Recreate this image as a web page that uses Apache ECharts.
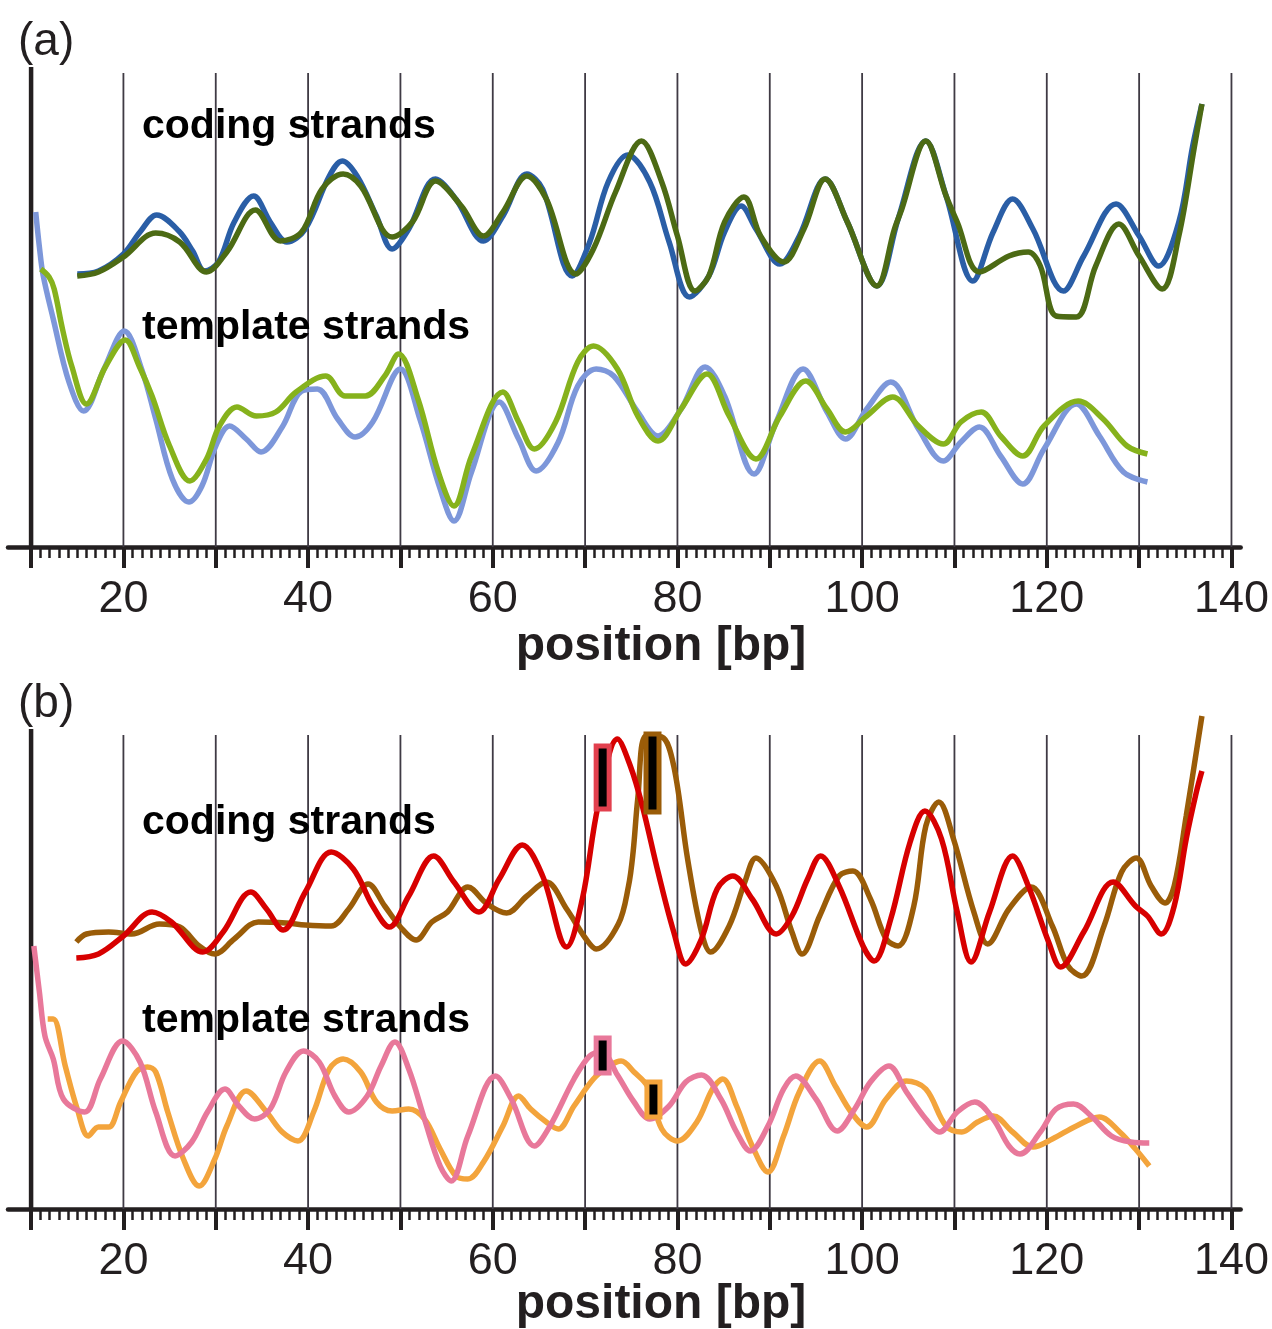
<!DOCTYPE html>
<html lang="en">
<head>
<meta charset="UTF-8">
<title>coding and template strands</title>
<script src="https://cdn.jsdelivr.net/npm/echarts@6/dist/echarts.min.js"></script>
<style>html,body{margin:0;padding:0;background:#fff}</style>
</head>
<body>
<div id="chart" style="width:1272px;height:1329px;"></div>
<script>
// position [bp] vs. arbitrary profile units (0 = x axis line)
var codingBlueA = [[15,273],[17.3,276],[20,293],[21.8,315],[23.6,332],[26,316],[27.5,296],[28.8,276],[30.3,285],[32,325],[34.1,351],[35.9,325],[37.7,305],[39.7,318],[42.3,371],[43.7,386],[45.3,371],[47.4,331],[49.1,298],[50.9,318],[53.8,368],[56,348],[59,306],[61.1,331],[63.7,373],[65.4,358],[68.6,271],[70.5,305],[72.5,365],[74.6,392],[77,365],[79.1,305],[81.3,250],[83.4,271],[85.1,315],[86.9,341],[88.5,318],[91.1,283],[93.2,311],[96,368],[98.4,325],[101.6,261],[103.9,328],[106.9,406],[109.1,351],[112,266],[114.2,315],[116.3,348],[118.5,318],[121.8,256],[124,291],[127.5,343],[130,311],[132.1,281],[134.3,325],[135.8,401],[136.8,443]]
var codingGreenA = [[15,271],[17.3,275],[20,290],[23.5,314],[26.1,305],[29,275],[31.2,295],[34.3,337],[37,306],[39.3,315],[41.5,358],[43.8,373],[45.7,361],[49.1,310],[51.3,325],[53.8,366],[56.6,341],[59,311],[61.1,335],[63.7,371],[65.8,348],[69,273],[70.9,298],[73.3,355],[76.1,406],[78.3,365],[80,311],[81.9,256],[83.4,271],[85.1,325],[87.2,350],[89,311],[91.5,285],[93.7,318],[96,368],[98.4,325],[101.6,261],[103.5,318],[104.3,338],[106.9,406],[109.1,351],[110.3,325],[112.7,275],[115.9,291],[118,295],[119.3,281],[121,231],[123.2,230],[125.3,281],[127.8,323],[130,291],[132.5,258],[134.3,311],[136,401],[136.8,443]]
var templateBlueA = [[10.5,335],[10.9,300],[11.3,272],[12.4,228],[14.1,165],[15.7,136],[17.9,178],[20.1,216],[22,177],[23.5,128],[25.3,68],[27.1,45],[28.5,61],[30,101],[31.5,121],[33.3,108],[34.9,95],[37.2,120],[39.3,156],[41,158],[43.2,128],[45.1,110],[47,125],[50,178],[52.1,128],[54.3,58],[55.8,26],[57.7,75],[60.7,145],[62.8,108],[64.7,76],[67.1,105],[69.2,161],[71.2,178],[73.1,171],[75.7,135],[77.9,111],[80.4,138],[83,180],[85.1,151],[88.3,73],[90.7,125],[93.6,178],[96.2,135],[98.2,108],[100.5,138],[103.1,165],[106.1,118],[108.8,86],[110.7,105],[112.7,120],[115,91],[117.4,63],[119.7,98],[123.2,143],[125.7,111],[128.3,75],[130.9,65]]
var templateGreenA = [[11.05,278],[11.95,270],[12.5,258],[13.4,218],[14.4,181],[16,143],[18.1,181],[20.2,207],[21.7,181],[23.1,151],[25,101],[27.2,66],[29,88],[30.4,121],[32.3,140],[34.4,131],[36.5,135],[38.7,155],[41.9,171],[44,151],[46.2,151],[48.3,171],[49.8,193],[51.9,148],[54.1,75],[55.8,41],[57.7,91],[61.1,155],[62.8,125],[64.5,98],[66.8,125],[69.2,185],[70.9,201],[73.5,178],[75.7,131],[77.9,106],[80.4,138],[83.2,173],[85.6,131],[88.5,88],[91.1,131],[93.9,166],[96.2,138],[98.2,115],[100.5,131],[103.3,150],[106.1,121],[108.8,103],[110.7,125],[112.9,135],[115,111],[117.4,91],[119.7,121],[123.4,146],[126.1,128],[128.7,101],[130.9,93]]

var codingRedB = [[14.9,251],[17.3,255],[20,273],[23.1,297],[25.2,287],[28.6,257],[30.8,277],[33.8,317],[35.5,300],[37.3,279],[39.7,317],[42.5,357],[44.9,340],[47,303],[48.8,282],[50.9,313],[53.6,353],[55.8,327],[58.5,297],[60.7,330],[63.2,364],[65.4,333],[68,262],[69.7,310],[71.4,403],[73.5,470],[74.9,443],[76.2,403],[77.9,337],[79.6,277],[80.9,245],[82.6,270],[84.3,320],[86,333],[88.1,310],[90.7,275],[92.4,293],[94.1,330],[95.5,353],[97.5,323],[100.1,263],[101.3,248],[103.1,290],[105.2,367],[106.8,398],[108.6,370],[110.3,297],[111.8,247],[113.8,297],[116.3,353],[118,323],[120.2,267],[121.5,242],[124,277],[127.2,327],[129.6,303],[130.9,293],[132.4,275],[133.8,303],[135.1,370],[136.2,417],[136.8,438]]
var codingBrownB = [[14.9,267],[16,275],[18.4,277],[20.9,275],[23.9,285],[26.1,282],[28.2,263],[29.9,255],[32,270],[34.6,287],[37.6,286],[39.7,284],[42.5,283],[44.4,300],[46.5,325],[48.3,303],[50,282],[51.7,269],[53.4,287],[55.1,297],[57.3,322],[59.4,305],[61.5,296],[63.7,313],[65.8,327],[68,300],[70.1,270],[71.2,260],[73.6,285],[74.7,323],[75.2,357],[75.7,410],[76.6,473],[78.3,472],[79.6,443],[81.1,350],[82.6,277],[83.6,257],[85.6,283],[87.3,327],[88.5,351],[90.7,323],[92.4,277],[93.5,255],[95.4,293],[97.5,333],[99,338],[100.9,310],[102.6,270],[103.9,263],[105.6,303],[106.9,383],[108.3,407],[109.9,370],[112.1,297],[113.6,265],[115.9,300],[118.3,322],[120.6,283],[122.3,243],[123.8,233],[126.2,283],[128.1,337],[129.7,351],[131.3,323],[132.8,306],[133.8,323],[135.1,393],[136.8,493]]
var templatePinkB = [[10.3,263],[10.9,217],[11.5,173],[12.4,150],[13.5,110],[15.8,97],[17.5,130],[19.9,168],[21.8,147],[23.5,97],[25.6,53],[27.4,67],[29.1,97],[31,120],[32.5,103],[34.2,90],[35.9,100],[37.6,137],[39.5,158],[41.2,147],[42.9,113],[44.4,97],[46.4,113],[47.9,143],[49.4,167],[50.9,140],[52.6,90],[54.3,43],[55.5,28],[57.3,73],[60.3,133],[62,110],[64.5,63],[66.2,83],[68.8,130],[70.5,153],[71.8,157],[73.5,134],[75.3,107],[77,90],[79.1,103],[80.9,127],[82.6,134],[84.7,110],[86.4,77],[87.9,58],[89.8,83],[91.5,120],[92.8,133],[95,110],[97.3,78],[99.2,100],[100.9,127],[102.9,143],[104.8,117],[106.9,90],[108.4,77],[110.3,97],[112.2,107],[114.2,90],[115.9,63],[117.1,55],[119.3,77],[121,100],[122.9,105],[124.8,93],[127,73],[129.1,67],[131.1,66]]
var templateOrangeB = [[11.8,190],[12.4,190],[13.7,143],[15,100],[16.2,73],[17.3,82],[18.4,82],[19.7,107],[21.4,137],[22.6,142],[23.5,137],[24.8,97],[26.5,50],[28.2,23],[29.9,50],[31.2,83],[33.3,118],[35.5,97],[37.2,77],[38.9,68],[40.6,97],[42.3,140],[43.8,150],[45.7,137],[47.4,107],[49.1,98],[50.9,100],[52.6,90],[54.3,60],[56,33],[57.3,30],[59,47],[61.1,83],[62.8,113],[64.1,100],[65.8,87],[67.1,80],[68.8,103],[70.9,130],[72.6,143],[73.9,148],[75.3,137],[76.8,122],[78.3,80],[80,68],[82.1,87],[83.8,120],[84.9,130],[86.4,103],[88.1,63],[89.8,37],[91.5,73],[93.2,117],[95.4,148],[97.1,123],[98.8,97],[100.5,82],[102.6,110],[104.8,128],[106.9,120],[109.1,83],[110.8,77],[112.5,87],[114.2,93],[116.3,77],[118.5,62],[120.6,70],[123.2,83],[125.7,92],[127.9,77],[129.6,60],[131.1,43]]

// black markers: [bp, low, high]
var codingMarksB = [[71.9,400,463],[77.3,397,475]]
var templateMarksB = [[71.9,136,171],[77.4,92,127]]

var gridBp = [20, 30, 40, 50, 60, 70, 80, 90, 100, 110, 120, 130, 140]
var majorTicks = [10, 20, 30, 40, 50, 60, 70, 80, 90, 100, 110, 120, 130, 140]
var tickLabels = [20, 40, 60, 80, 100, 120, 140]
var minorTicks = []
for (var i = 11; i < 140; i++) {
    if (i % 10 !== 0) minorTicks.push(i)
}

var ink = '#231f20'
var font = "'Liberation Sans', Arial, Helvetica, sans-serif"

var chart = echarts.init(document.getElementById('chart'))

function vlines(width, color) {
    return function (params, api) {
        var a = api.coord([api.value(0), 0])
        var b = api.coord([api.value(0), api.value(1)])
        return {
            type: 'line',
            shape: { x1: a[0], y1: a[1], x2: b[0], y2: b[1] },
            style: { stroke: color, lineWidth: width }
        }
    }
}

function boxes(colors) {
    return function (params, api) {
        var lo = api.coord([api.value(0), api.value(1)])
        var hi = api.coord([api.value(0), api.value(2)])
        return {
            type: 'rect',
            shape: { x: lo[0] - 6.5, y: hi[1], width: 13, height: lo[1] - hi[1] },
            style: { fill: '#000', stroke: colors[params.dataIndex], lineWidth: 5 }
        }
    }
}

function majorAxis(g) {
    return {
        type: 'value', gridIndex: g, position: 'bottom', min: 7.5, max: 141,
        axisLine: { show: true, lineStyle: { color: ink, width: 4.5 } },
        axisTick: { show: true, customValues: majorTicks, length: 21, lineStyle: { color: ink, width: 4 } },
        axisLabel: { customValues: tickLabels, margin: 30, fontSize: 45, color: ink, fontFamily: font },
        splitLine: { show: false }
    }
}

function minorAxis(g) {
    return {
        type: 'value', gridIndex: g, position: 'bottom', min: 7.5, max: 141,
        axisLine: { show: false },
        axisTick: { show: true, customValues: minorTicks, length: 11, lineStyle: { color: ink, width: 2.5 } },
        axisLabel: { show: false },
        splitLine: { show: false }
    }
}

function curve(name, data, color, xi, yi) {
    return {
        name: name, type: 'line', xAxisIndex: xi, yAxisIndex: yi, data: data,
        showSymbol: false, smooth: 0.35, z: 3,
        lineStyle: { color: color, width: 5.5 }
    }
}

function axesSeries(xi, yi) {
    return [{
        type: 'custom', xAxisIndex: xi, yAxisIndex: yi, z: 1, silent: true,
        renderItem: vlines(1.8, '#3f3a44'),
        data: gridBp.map(function (x) { return [x, 474] })
    }, {
        type: 'custom', xAxisIndex: xi, yAxisIndex: yi, z: 2, silent: true,
        renderItem: vlines(4.5, ink),
        data: [[10, 480]]
    }]
}

function label(text, left, top, size, bold) {
    return {
        type: 'text', left: left, top: top, z: 10,
        style: { text: text, font: (bold ? 'bold ' : '') + size + 'px ' + font, fill: bold ? '#000' : ink }
    }
}

function axisTitle(top) {
    return {
        type: 'text', x: 661, y: top, z: 10,
        style: { text: 'position [bp]', font: 'bold 48px ' + font, fill: ink, align: 'center', verticalAlign: 'middle' }
    }
}

var options = {
    animation: false,
    backgroundColor: '#fff',
    grid: [
        { left: 8, right: 28, top: 47, height: 500 },
        { left: 8, right: 28, top: 709, height: 500 }
    ],
    xAxis: [majorAxis(0), minorAxis(0), majorAxis(1), minorAxis(1)],
    yAxis: [
        { type: 'value', gridIndex: 0, min: 0, max: 500, show: false },
        { type: 'value', gridIndex: 1, min: 0, max: 500, show: false }
    ],
    graphic: [
        label('(a)', 18, 19, 46, false),
        label('(b)', 18, 681, 46, false),
        label('coding strands', 142, 106, 41, true),
        label('template strands', 142, 307, 41, true),
        label('coding strands', 142, 802, 41, true),
        label('template strands', 142, 1000, 41, true),
        axisTitle(647),
        axisTitle(1305)
    ],
    series: [].concat(
        axesSeries(0, 0),
        axesSeries(2, 1),
        [
            curve('coding a1', codingBlueA, '#2a5ea6', 0, 0),
            curve('coding a2', codingGreenA, '#4c6a14', 0, 0),
            curve('template a1', templateBlueA, '#7d97da', 0, 0),
            curve('template a2', templateGreenA, '#86b21c', 0, 0),
            curve('coding b2', codingBrownB, '#9a5c08', 2, 1),
            curve('coding b1', codingRedB, '#d70000', 2, 1),
            curve('template b2', templateOrangeB, '#f3a43c', 2, 1),
            curve('template b1', templatePinkB, '#e8789a', 2, 1),
            {
                type: 'custom', xAxisIndex: 2, yAxisIndex: 1, z: 5, silent: true,
                renderItem: boxes(['#e2404e', '#9a5c08']), data: codingMarksB
            },
            {
                type: 'custom', xAxisIndex: 2, yAxisIndex: 1, z: 5, silent: true,
                renderItem: boxes(['#e8789a', '#f3a43c']), data: templateMarksB
            }
        ]
    )
}
chart.setOption(options)
</script>
</body>
</html>
